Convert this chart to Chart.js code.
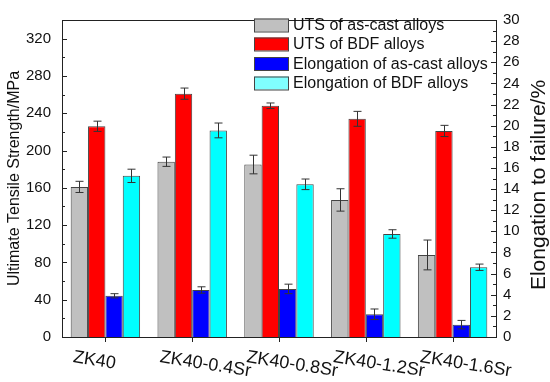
<!DOCTYPE html>
<html>
<head>
<meta charset="utf-8">
<script src="https://cdn.jsdelivr.net/npm/chart.js@4"></script>
<style>
  html, body { margin: 0; padding: 0; background: #fff; }
</style>
</head>
<body>
<canvas id="myChart" width="550" height="382"></canvas>
<script>
var categories = ['ZK40', 'ZK40-0.4Sr', 'ZK40-0.8Sr', 'ZK40-1.2Sr', 'ZK40-1.6Sr'];

var utsCast = [161, 188, 185, 147, 88];
var utsCastErr = [6, 5, 10, 12, 16];
var utsBdf = [226, 261, 248, 234, 221];
var utsBdfErr = [5.5, 6, 3, 8, 6];

var elCast = [3.9, 4.45, 4.55, 2.15, 1.17];
var elCastErr = [0.2, 0.3, 0.45, 0.5, 0.4];
var elBdf = [15.25, 19.55, 14.45, 9.75, 6.6];
var elBdfErr = [0.63, 0.7, 0.5, 0.4, 0.3];

var leftTicks = [0, 40, 80, 120, 160, 200, 240, 280, 320];
var rightTicks = [0, 2, 4, 6, 8, 10, 12, 14, 16, 18, 20, 22, 24, 26, 28, 30];

var FONT = '"Liberation Sans", Arial, sans-serif';

// error bars, inward ticks, frame, x labels, legend, right title
var extras = {
  id: 'extras',
  afterDatasetsDraw: function(chart) {
    var ctx = chart.ctx;
    ctx.save();
    ctx.strokeStyle = '#333';
    ctx.lineWidth = 1;
    chart.data.datasets.forEach(function(ds, i) {
      var meta = chart.getDatasetMeta(i);
      var sc = chart.scales[ds.yAxisID];
      meta.data.forEach(function(bar, j) {
        var v = ds.data[j], e = ds.err[j];
        var x = Math.round(bar.x) + 0.5;
        var y1 = sc.getPixelForValue(v + e), y2 = sc.getPixelForValue(v - e);
        ctx.beginPath();
        ctx.moveTo(x, y1); ctx.lineTo(x, y2);
        ctx.moveTo(x - 4, y1); ctx.lineTo(x + 4, y1);
        ctx.moveTo(x - 4, y2); ctx.lineTo(x + 4, y2);
        ctx.stroke();
      });
    });
    ctx.restore();
  },
  afterDraw: function(chart) {
    var ctx = chart.ctx, a = chart.chartArea;
    var yl = chart.scales.y, yr = chart.scales.y1, xs = chart.scales.x;
    ctx.save();
    ctx.strokeStyle = '#222';
    ctx.lineWidth = 1;
    ctx.strokeRect(Math.round(a.left) + 0.5, Math.round(a.top) + 0.5,
      Math.round(a.right - a.left), Math.round(a.bottom - a.top));

    ctx.beginPath();
    for (var v = 0; v <= 340; v += 20) {
      var y = Math.round(yl.getPixelForValue(v)) + 0.5;
      var len = v % 40 === 0 ? 5 : 3;
      ctx.moveTo(a.left, y); ctx.lineTo(a.left + len, y);
    }
    for (var w = 0; w <= 30; w += 1) {
      var y2 = Math.round(yr.getPixelForValue(w)) + 0.5;
      var len2 = w % 2 === 0 ? 5 : 3;
      ctx.moveTo(a.right, y2); ctx.lineTo(a.right - len2, y2);
    }
    categories.forEach(function(c, i) {
      var x = Math.round(xs.getPixelForTick(i)) + 0.5;
      ctx.moveTo(x, a.bottom); ctx.lineTo(x, a.bottom + 5);
    });
    ctx.stroke();

    // category labels, tilted
    ctx.fillStyle = '#111';
    ctx.font = '18px ' + FONT;
    ctx.textAlign = 'left';
    ctx.textBaseline = 'alphabetic';
    categories.forEach(function(c, i) {
      ctx.save();
      ctx.translate(xs.getPixelForTick(i) - 33, 362);
      ctx.rotate(9 * Math.PI / 180);
      ctx.fillText(c, 0, 0);
      ctx.restore();
    });

    // legend
    ctx.font = '16px ' + FONT;
    ctx.textBaseline = 'middle';
    var rows = [25, 44, 63.5, 83];
    var boxFill = ['#c0c0c0', '#ff0000', '#0000ff', '#80ffff'];
    chart.data.datasets.forEach(function(ds, i) {
      ctx.fillStyle = boxFill[i];
      ctx.fillRect(254, rows[i] - 6.5, 35, 13);
      ctx.strokeStyle = '#444';
      ctx.strokeRect(254.5, rows[i] - 6, 34, 13);
      ctx.fillStyle = '#111';
      ctx.fillText(ds.label, 293, rows[i] + 1);
    });

    // right axis title, reads bottom to top
    ctx.save();
    ctx.translate(539, 185);
    ctx.rotate(-Math.PI / 2);
    ctx.textAlign = 'center';
    ctx.font = '21px ' + FONT;
    ctx.fillText('Elongation to failure/%', 0, 0);
    ctx.restore();
    ctx.restore();
  }
};

var ctx = document.getElementById('myChart').getContext('2d');
var myChart = new Chart(ctx, {
  type: 'bar',
  data: {
    labels: categories,
    datasets: [{
        label: 'UTS of as-cast alloys',
        data: utsCast,
        err: utsCastErr,
        yAxisID: 'y',
        backgroundColor: '#c0c0c0',
        borderColor: '#444',
        borderWidth: 1
      }, {
        label: 'UTS of BDF alloys',
        data: utsBdf,
        err: utsBdfErr,
        yAxisID: 'y',
        backgroundColor: '#ff0000',
        borderColor: '#444',
        borderWidth: 1
      }, {
        label: 'Elongation of as-cast alloys',
        data: elCast,
        err: elCastErr,
        yAxisID: 'y1',
        backgroundColor: '#0000ff',
        borderColor: '#444',
        borderWidth: 1
      }, {
        label: 'Elongation of BDF alloys',
        data: elBdf,
        err: elBdfErr,
        yAxisID: 'y1',
        backgroundColor: '#00ffff',
        borderColor: '#444',
        borderWidth: 1
      }
    ]
  },
  options: {
    responsive: false,
    animation: false,
    layout: { padding: { top: 12, right: 0, bottom: 0, left: 0 } },
    datasets: { bar: { categoryPercentage: 0.8, barPercentage: 1.0 } },
    plugins: {
      legend: { display: false },
      tooltip: { enabled: false }
    },
    scales: {
      x: {
        grid: { display: false, drawTicks: false },
        border: { display: false },
        ticks: { display: false },
        afterFit: function(s) { s.height = 45; }
      },
      y: {
        position: 'left',
        min: 0,
        max: 340,
        afterBuildTicks: function(s) {
          s.ticks = leftTicks.map(function(v) { return { value: v }; });
        },
        grid: { display: false, drawTicks: false },
        border: { display: false },
        ticks: { color: '#111', padding: 11, font: { size: 15, family: FONT } },
        title: {
          display: true,
          text: 'Ultimate Tensile Strength/MPa',
          color: '#111',
          padding: { top: 5, bottom: 0 },
          font: { size: 16, family: FONT }
        },
        afterFit: function(s) { s.width = 62; }
      },
      y1: {
        position: 'right',
        min: 0,
        max: 30,
        afterBuildTicks: function(s) {
          s.ticks = rightTicks.map(function(v) { return { value: v }; });
        },
        grid: { display: false, drawTicks: false },
        border: { display: false },
        ticks: { color: '#111', padding: 7, font: { size: 15, family: FONT } },
        afterFit: function(s) { s.width = 54; }
      }
    }
  },
  plugins: [extras]
});
</script>
</body>
</html>
